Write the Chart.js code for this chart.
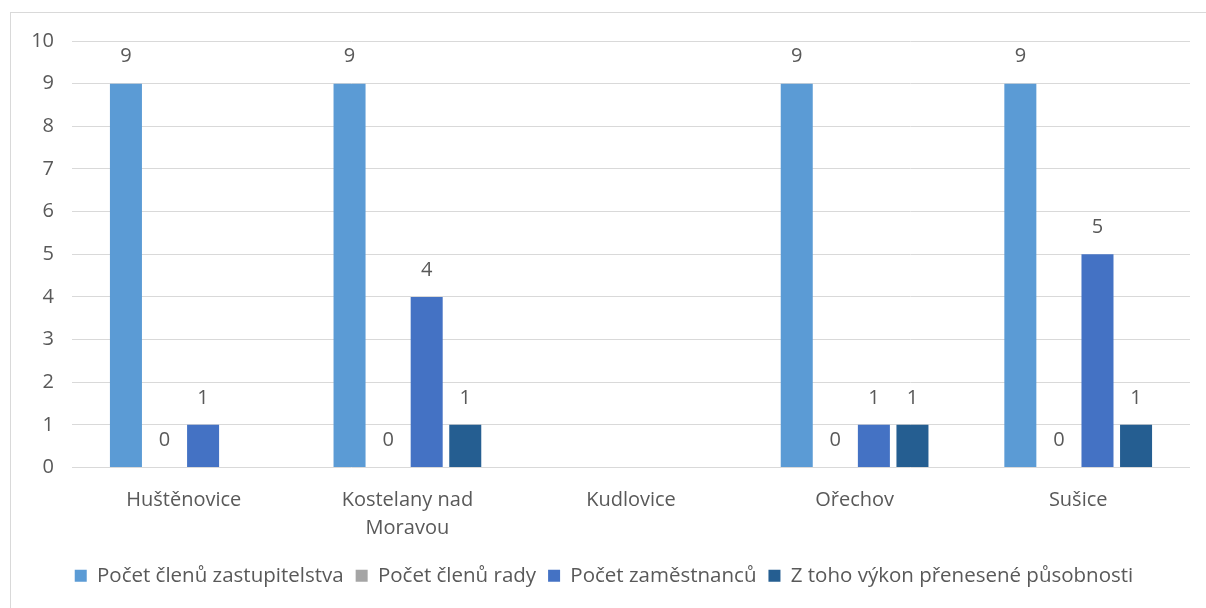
<!DOCTYPE html>
<html>
<head>
<meta charset="utf-8">
<script src="https://cdn.jsdelivr.net/npm/chart.js@4"></script>
<style>
  body { margin: 0; background: #fff; }
  #frame { position: absolute; left: 10px; top: 12px; width: 1210px; height: 610px; border: 1px solid #d9d9d9; }
  #wrap { position: absolute; left: 0; top: 0; width: 1206px; height: 608px; }
</style>
</head>
<body>
<div id="frame"></div>
<div id="wrap"><canvas id="myChart"></canvas></div>
<script>
// obce
const categories = ["Huštěnovice", ["Kostelany nad", "Moravou"], "Kudlovice", "Ořechov", "Sušice"];
// hodnoty
const zastupitelstvo = [9, 9, null, 9, 9];
const rada = [0, 0, null, 0, 0];
const zamestnanci = [1, 4, null, 1, 5];
const prenesena = [null, 1, null, 1, 1];
const yTicks = [0, 1, 2, 3, 4, 5, 6, 7, 8, 9, 10];

const barColors = ["#5b9bd5", "#a5a5a5", "#4472c4", "#255e91"];
const txt = "#595959";
const font = "'Open Sans', sans-serif";

/* popisky nad sloupci */
const valueLabels = {
  id: "valueLabels",
  afterDatasetsDraw(chart) {
    const ctx = chart.ctx;
    ctx.save();
    ctx.fillStyle = txt;
    ctx.font = "20px " + font;
    ctx.textAlign = "center";
    ctx.textBaseline = "middle";
    chart.data.datasets.forEach(function (ds, i) {
      chart.getDatasetMeta(i).data.forEach(function (bar, j) {
        if (ds.data[j] === null) return;
        ctx.fillText(String(ds.data[j]), bar.x, bar.y - 27);
      });
    });
    ctx.restore();
  }
};

new Chart("myChart", {
  type: "bar",
  data: {
    labels: categories,
    datasets: [
      { label: "Počet členů zastupitelstva", data: zastupitelstvo, backgroundColor: barColors[0] },
      { label: "Počet členů rady", data: rada, backgroundColor: barColors[1] },
      { label: "Počet zaměstnanců", data: zamestnanci, backgroundColor: barColors[2] },
      { label: "Z toho výkon přenesené působnosti", data: prenesena, backgroundColor: barColors[3] }
    ]
  },
  options: {
    responsive: true,
    maintainAspectRatio: false,
    animation: false,
    layout: { padding: { left: 18, right: 16, top: 41, bottom: 12 } },
    datasets: { bar: { categoryPercentage: 0.69, barPercentage: 0.83 } },
    scales: {
      x: {
        grid: { display: false },
        border: { display: false },
        ticks: { color: txt, font: { family: font, size: 20, lineHeight: 1.4 }, padding: 11, maxRotation: 0 }
      },
      y: {
        min: 0,
        max: 10,
        afterFit: function (axis) { axis.width = 54; },
        afterBuildTicks: function (axis) { axis.ticks = yTicks.map(v => ({ value: v })); },
        grid: { color: "#d9d9d9", lineWidth: 1, drawTicks: false },
        border: { display: false },
        ticks: { color: txt, font: { family: font, size: 20 }, padding: 18 }
      }
    },
    plugins: {
      legend: {
        position: "bottom",
        labels: { color: txt, font: { family: font, size: 20.5 }, boxWidth: 12, boxHeight: 12, padding: 12 }
      },
      tooltip: { enabled: false }
    }
  },
  plugins: [valueLabels]
});
</script>
</body>
</html>
